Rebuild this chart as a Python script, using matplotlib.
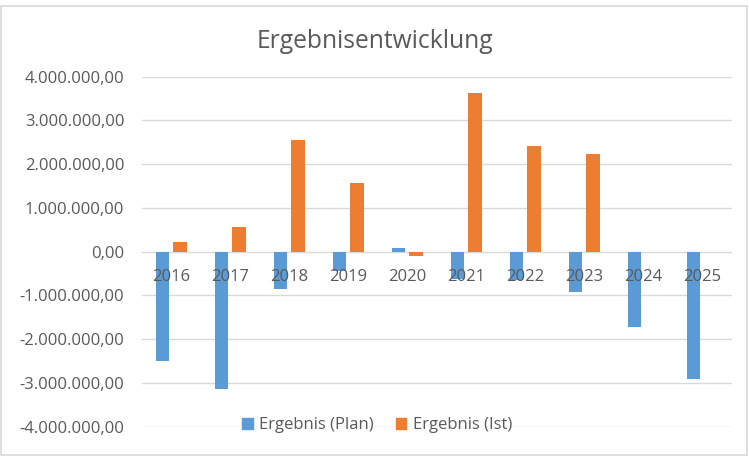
import matplotlib.pyplot as plt
from matplotlib.patches import Rectangle, Patch
import numpy as np

plt.rcParams['font.family'] = ['Open Sans', 'DejaVu Sans']

years = ['2016', '2017', '2018', '2019', '2020', '2021', '2022', '2023', '2024', '2025']
plan = [-2490000, -3130000, -850000, -430000, 80000, -620000, -650000, -930000, -1710000, -2910000]
ist = [220000, 570000, 2550000, 1560000, -100000, 3620000, 2420000, 2230000, np.nan, np.nan]
yticks = [-4000000, -3000000, -2000000, -1000000, 0, 1000000, 2000000, 3000000, 4000000]

blue = '#5B9BD5'
orange = '#ED7D31'
text_gray = '#595959'
grid_gray = '#D9D9D9'


def german(v):
    s = f'{v:,.2f}'
    return s.replace(',', 'X').replace('.', ',').replace('X', '.')


W, H = 749, 461
fig = plt.figure(figsize=(W / 100, H / 100), dpi=100)
ax = fig.add_axes([141.7 / W, 1 - 426.7 / H, 590 / W, 350 / H])

x = np.arange(len(years))
bw = 0.222
ax.bar(x - 0.144, plan, bw, color=blue, zorder=1)
ax.bar(x + 0.149, ist, bw, color=orange, zorder=1)

for t in yticks:
    ax.axhline(t, color=grid_gray, lw=1, zorder=0)

ax.set_xlim(-0.5, len(years) - 0.5)
ax.set_ylim(yticks[0], yticks[-1])
ax.set_yticks(yticks)
ax.set_yticklabels([german(t) for t in yticks])
ax.set_xticks(x)
ax.set_xticklabels(years)
ax.spines['bottom'].set_position(('data', 0))
for s in ax.spines.values():
    s.set_visible(False)
ax.tick_params(axis='y', length=0, pad=12.5, labelsize=12, labelcolor=text_gray)
ax.tick_params(axis='x', length=0, pad=12.5, labelsize=12, labelcolor=text_gray)

fig.text(375 / W, 1 - 42 / H, 'Ergebnisentwicklung', ha='center', va='center',
         fontsize=17.7, color=text_gray)

handles = [Patch(color=blue, label='Ergebnis (Plan)'),
           Patch(color=orange, label='Ergebnis (Ist)')]
leg = fig.legend(handles=handles, loc='center', bbox_to_anchor=(377 / W, 1 - 425 / H),
                 ncol=2, frameon=False, fontsize=12, handlelength=0.65, handleheight=0.65,
                 handletextpad=0.4, columnspacing=1.3)
for t in leg.get_texts():
    t.set_color(text_gray)

fig.patches.append(Rectangle((0.5 / W, 1 - 455 / H), 746.5 / W, 449 / H, fill=False,
                             edgecolor=grid_gray, lw=1.2, transform=fig.transFigure))

fig.savefig('out.png', dpi=100)
